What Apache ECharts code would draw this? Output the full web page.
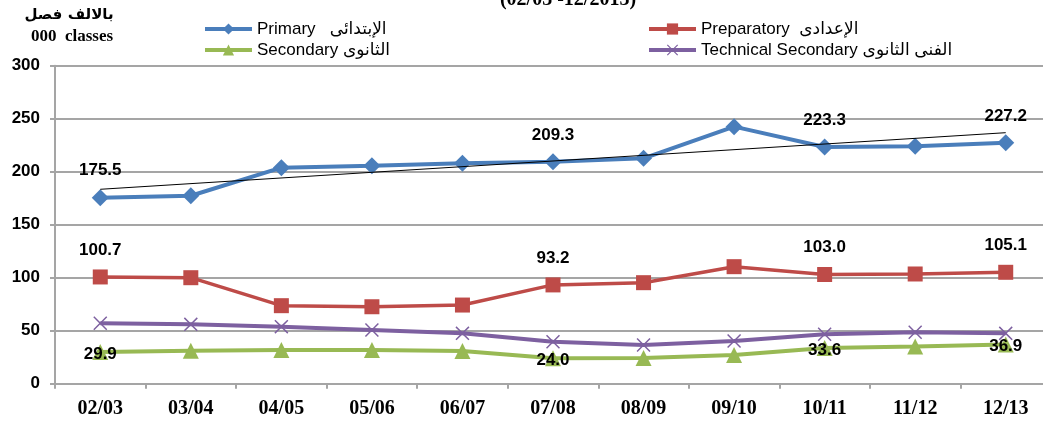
<!DOCTYPE html>
<html>
<head>
<meta charset="utf-8">
<script src="https://cdn.jsdelivr.net/npm/echarts@6/dist/echarts.min.js"></script>
<style>html,body{margin:0;padding:0;background:#fff}#c{width:1043px;height:425px}</style>
</head>
<body>
<div id="c"></div>
<script>
const categories = ['02/03','03/04','04/05','05/06','06/07','07/08','08/09','09/10','10/11','11/12','12/13'];
const primary     = [175.5, 177.3, 203.8, 205.7, 207.9, 209.3, 212.6, 242.5, 223.3, 224.0, 227.2];
const preparatory = [100.7, 100.0, 73.6, 72.6, 74.2, 93.2, 95.3, 110.4, 103.0, 103.5, 105.1];
const secondary   = [29.9, 31.1, 31.8, 31.8, 30.8, 24.0, 24.3, 27.1, 33.6, 35.0, 36.9];
const technical   = [57.0, 56.0, 53.8, 50.7, 47.5, 39.6, 36.5, 40.3, 46.6, 48.5, 47.5];
const trend       = [183.4, null, null, null, null, null, null, null, null, null, 236.8];
const labelIdx    = [0, 5, 8, 10];
const yTicks      = {min: 0, max: 300, interval: 50};
const legendNames = {
  'Primary': 'Primary   \u0627\u0644\u0625\u0628\u062a\u062f\u0627\u0626\u0649',
  'Preparatory': 'Preparatory  \u0627\u0644\u0625\u0639\u062f\u0627\u062f\u0649',
  'Secondary': 'Secondary \u0627\u0644\u062b\u0627\u0646\u0648\u0649',
  'Technical Secondary': 'Technical Secondary \u0627\u0644\u0641\u0646\u0649 \u0627\u0644\u062b\u0627\u0646\u0648\u0649'
};
const unitAr = '\u0628\u0627\u0644\u0627\u0644\u0641 \u0641\u0635\u0644';
const unitEn = '000  classes';
const titleText = '(02/03 -12/2013)';

const chart = echarts.init(document.getElementById('c'), null, {renderer: 'canvas'});
const crossPath = 'path://M0,1.5L1.5,0L10,8.5L18.5,0L20,1.5L11.5,10L20,18.5L18.5,20L10,11.5L1.5,20L0,18.5L8.5,10Z';
const lblFont = {fontFamily: '"Liberation Sans", Arial, sans-serif', fontWeight: 'bold', fontSize: 17, color: '#000'};
function mkLabel(dy) {
  return Object.assign({
    show: true, position: 'inside', offset: [0, dy],
    formatter: p => labelIdx.includes(p.dataIndex) ? p.value.toFixed(1) : ''
  }, lblFont);
}
const legendText = {fontFamily: '"Liberation Sans", Arial, "DejaVu Sans", sans-serif', fontSize: 17, color: '#000', lineHeight: 18};
const gridGray = '#a5a5a5';

chart.setOption({
  animation: false,
  grid: {left: 55, right: -8, top: 65.7, bottom: 41.3, outerBoundsMode: 'none', containLabel: false},
  legend: [
    {data: ['Primary', 'Secondary'], orient: 'vertical', left: 203, top: 20, itemWidth: 47, itemHeight: 14, itemGap: 3,
     lineStyle: {width: 4}, formatter: n => legendNames[n], textStyle: legendText, padding: 0},
    {data: ['Preparatory', 'Technical Secondary'], orient: 'vertical', left: 647, top: 20, itemWidth: 47, itemHeight: 14, itemGap: 3,
     lineStyle: {width: 4}, formatter: n => legendNames[n], textStyle: legendText, padding: 0}
  ],
  xAxis: {
    type: 'category', data: categories, boundaryGap: true,
    axisLine: {lineStyle: {color: gridGray, width: 2}},
    axisTick: {show: true, length: 5, lineStyle: {color: gridGray, width: 2}},
    axisLabel: {margin: 15, fontFamily: '"Liberation Serif", "Times New Roman", serif', fontWeight: 'bold', fontSize: 20, color: '#000'},
    splitLine: {show: false}
  },
  yAxis: {
    type: 'value', min: yTicks.min, max: yTicks.max, interval: yTicks.interval,
    axisLine: {show: true, lineStyle: {color: gridGray, width: 2}},
    axisTick: {show: true, length: 5, lineStyle: {color: gridGray, width: 2}},
    axisLabel: {margin: 15, fontFamily: '"Liberation Sans", Arial, sans-serif', fontWeight: 'bold', fontSize: 17, color: '#000'},
    splitLine: {show: true, lineStyle: {color: gridGray, width: 2}}
  },
  series: [
    {name: 'Primary', type: 'line', data: primary, symbol: 'diamond', symbolSize: 17,
     lineStyle: {color: '#4A7EBB', width: 4}, itemStyle: {color: '#4A7EBB'}, label: mkLabel(-27), z: 3},
    {name: 'Preparatory', type: 'line', data: preparatory, symbol: 'rect', symbolSize: 15,
     lineStyle: {color: '#BE4B48', width: 3.5}, itemStyle: {color: '#BE4B48'}, label: mkLabel(-27), z: 3},
    {name: 'Secondary', type: 'line', data: secondary, symbol: 'triangle', symbolSize: 16,
     lineStyle: {color: '#98B954', width: 4}, itemStyle: {color: '#98B954'}, label: mkLabel(2), z: 3},
    {name: 'Technical Secondary', type: 'line', data: technical, symbol: crossPath, symbolSize: 14,
     lineStyle: {color: '#7D60A0', width: 4}, itemStyle: {color: '#7D60A0'}, z: 2},
    {name: 'Trend', type: 'line', data: trend, connectNulls: true, symbol: 'none', silent: true,
     lineStyle: {color: '#000', width: 1}, z: 4}
  ],
  graphic: [
    {type: 'text', x: 69, y: 15, style: {text: unitAr, align: 'center', verticalAlign: 'middle',
      font: 'bold 15px "DejaVu Sans", sans-serif', fill: '#000'}},
    {type: 'text', x: 72, y: 37, style: {text: unitEn, align: 'center', verticalAlign: 'middle',
      font: 'bold 17px "Liberation Serif", "Times New Roman", serif', fill: '#000'}},
    {type: 'text', x: 568, y: 10, style: {text: titleText, align: 'center', verticalAlign: 'bottom',
      font: 'bold 20px "Liberation Serif", "Times New Roman", serif', fill: '#000'}}
  ]
});
</script>
</body>
</html>
